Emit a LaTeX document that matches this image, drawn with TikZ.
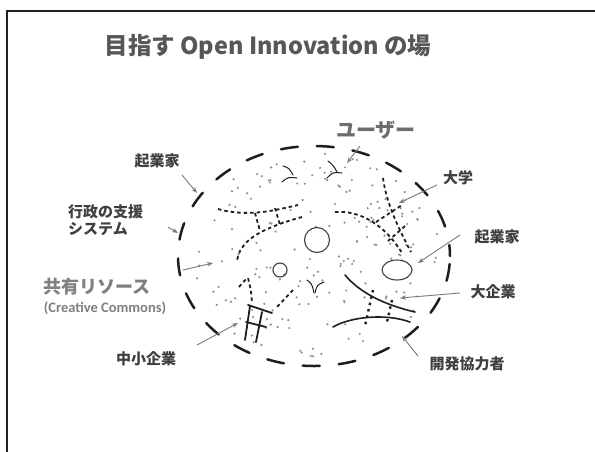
\documentclass[tikz,border=0pt]{standalone}
\usepackage{fontspec}
\setmainfont{Noto Sans CJK JP}
\newfontfamily\latfont{Carlito}
\usetikzlibrary{arrows.meta}
\definecolor{framec}{HTML}{222222}
\definecolor{titlec}{HTML}{575757}
\definecolor{labc}{HTML}{3F3F3F}
\definecolor{softc}{HTML}{808080}
\definecolor{arrc}{HTML}{7A7A7A}
\definecolor{penc}{HTML}{1E1E1E}
\definecolor{dotc}{HTML}{8E8E8E}
\tikzset{
  lab/.style={font=\fontsize{15}{17}\selectfont\bfseries, text=labc, inner sep=0pt},
  pointer/.style={draw=arrc, line width=0.9pt, -{Stealth[length=6pt,width=4.5pt]}},
  pen/.style={draw=penc, line width=1.8pt, line cap=round},
  dashpen/.style={draw=penc, line width=1.8pt, dash pattern=on 3.5pt off 3pt},
  ring/.style={draw=penc!85, line width=1.1pt},
}
\begin{document}
\begin{tikzpicture}[x=1pt,y=-1pt]
\useasboundingbox (0,0) rectangle (595,451);
\clip (0,0) rectangle (595,451);
\fill[white] (0,0) rectangle (595,451);

% slide frame (runs off the right and bottom edges)
\draw[framec, line width=2.2pt] (7,470) -- (7,11) -- (620,11);

% title
\node[font=\fontsize{23.5}{27}\selectfont\bfseries, text=titlec] (title) at (268,47) {目指す Open Innovation の場};

% scattered participants inside the field
\pgfmathsetseed{4711}
\foreach \i in {1,...,175}{
  \pgfmathsetmacro\ang{rnd*360}
  \pgfmathsetmacro\rad{sqrt(rnd)*0.95}
  \fill[dotc] ({314+134*\rad*cos(\ang)},{256+108*\rad*sin(\ang)}) circle[radius=1.2pt];
}

% dashed boundary of the field
\draw[penc, line width=2.5pt, line cap=round, dash pattern=on 17pt off 19pt, dash phase=6pt]
  (314,256) ellipse [x radius=136pt, y radius=110pt];

% small rings
\draw[ring] (317,240) circle[radius=12.5pt];
\draw[ring] (280,270) circle[radius=7pt];
\draw[ring] (397,270) ellipse [x radius=15pt, y radius=10pt];

% small curved marks
\draw[penc, line width=1pt, line cap=round] (283,166) .. controls (289,168) .. (293,175);
\draw[penc, line width=1pt, line cap=round] (282,182) .. controls (288,177) .. (297,178);
\draw[penc, line width=1pt, line cap=round] (328,161) .. controls (333,165) .. (337,172);
\draw[penc, line width=1pt, line cap=round] (327,178) .. controls (333,172) .. (342,173);
\draw[penc, line width=1pt, line cap=round] (307,280) .. controls (312,284) .. (314,293);
\draw[penc, line width=1pt, line cap=round] (324,282) .. controls (317,285) .. (315,293);

% left network of dashed links
\draw[dashpen] (218,209) .. controls (235,214) and (255,214) .. (275,210) .. controls (285,208) .. (298,205);
\draw[dashpen] (302,217) .. controls (280,223) and (255,232) .. (245,244) .. controls (240,250) .. (237,260);
\draw[dashpen] (255,213) -- (260,231);
\draw[dashpen] (275,208) -- (280,225);
\draw[dashpen] (239,287) .. controls (244,281) .. (248,278) .. controls (251,290) .. (252,303);
\draw[dashpen] (293,290) -- (277,307);

% small company lattice
\draw[pen] (250,306) -- (245,340);
\draw[pen] (262,312) -- (256,342);
\draw[pen] (248,305) -- (272,313);
\draw[pen] (246,322) -- (266,327);

% right network of dashed links
\draw[dashpen] (335,212) .. controls (360,210) and (385,225) .. (402,253);
\draw[dashpen] (383,178) .. controls (386,200) and (395,222) .. (411,252);
\draw[dashpen] (376,222) -- (402,205);
\draw[dashpen] (405,226) -- (388,241);

% large company block
\draw[pen, line width=1.6pt] (345,275) .. controls (360,293) and (385,305) .. (415,312);
\draw[pen, line width=1.6pt] (333,327) .. controls (350,317) and (385,313) .. (410,322);
\draw[penc, line width=2.4pt, dash pattern=on 2.5pt off 4pt] (373,290) -- (365,326);
\draw[penc, line width=2.4pt, dash pattern=on 2.5pt off 4pt] (392,300) -- (387,322);

% labels
\node[lab, font=\fontsize{20}{22}\selectfont\bfseries, text=softc!85!black] (user) at (376,130) {ユーザー};
\node[lab] (entL) at (157,161) {起業家};
\node[lab] (univ) at (458,178) {大学};
\node[lab] (entR) at (497,237) {起業家};
\node[lab] (corp) at (493,292) {大企業};
\node[lab] (dev) at (467,364) {開発協力者};
\node[lab] (sme) at (146,359) {中小企業};
\node[lab, align=left, anchor=west, font=\fontsize{15}{17}\selectfont\bfseries] (gov) at (68,220) {行政の支援\\システム};
\node[lab, font=\fontsize{18}{20}\selectfont\bfseries, text=softc] (commons) at (97,287) {共有リソース};
\node[lab, font=\latfont\fontsize{14.5}{16}\selectfont\bfseries, text=softc] (cc) at (105,308) {(Creative Commons)};

% pointer ends
\coordinate (userT) at (360,146);  \coordinate (userH) at (347,163);
\coordinate (entLT) at (182,175);  \coordinate (entLH) at (197,193);
\coordinate (univT) at (437,185);  \coordinate (univH) at (399,203);
\coordinate (entRT) at (460,235);  \coordinate (entRH) at (418,263);
\coordinate (corpT) at (460,293);  \coordinate (corpH) at (400,298);
\coordinate (devT) at (418,356);   \coordinate (devH) at (402,336);
\coordinate (smeT) at (197,345);   \coordinate (smeH) at (238,323);
\coordinate (govT) at (168,227);   \coordinate (govH) at (178,233);
\coordinate (comT) at (183,270);   \coordinate (comH) at (213,263);

\draw[pointer] (userT) -- (userH);
\draw[pointer] (entLT) -- (entLH);
\draw[pointer] (univT) -- (univH);
\draw[pointer] (entRT) -- (entRH);
\draw[pointer] (corpT) -- (corpH);
\draw[pointer] (devT) -- (devH);
\draw[pointer] (smeT) -- (smeH);
\draw[pointer] (govT) -- (govH);
\draw[pointer] (comT) -- (comH);
\end{tikzpicture}
\end{document}
